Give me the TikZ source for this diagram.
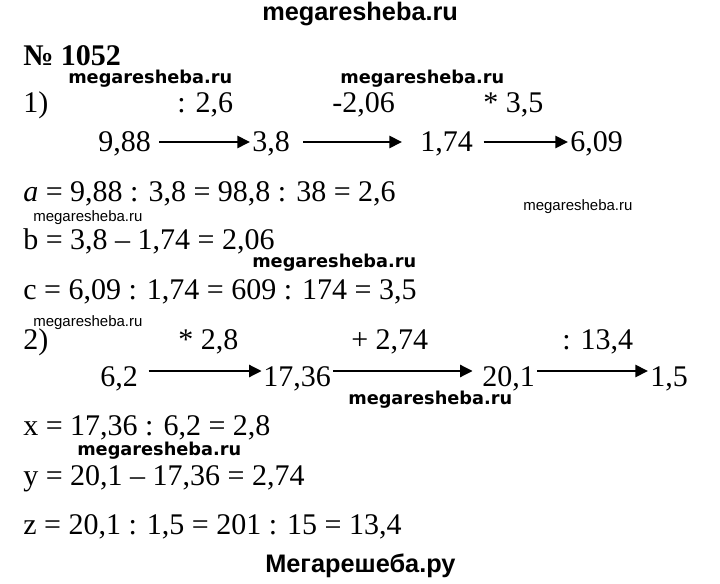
\documentclass[tikz,border=0pt]{standalone}
\usepackage{fontspec}
\setmainfont{Liberation Serif}
\newfontfamily\wmsans{Liberation Sans}
\newfontfamily\wmwide{DejaVu Sans}
\usetikzlibrary{arrows.meta}

\tikzset{
  txt/.style={anchor=base west, inner sep=0pt, font=\fontsize{22.5}{27}\selectfont},
  num/.style={txt, text height=15pt, text depth=0pt},
  numhi/.style={txt, text height=22.5pt, text depth=0pt},
  arr/.style={line width=2pt, -{Triangle[length=9.5pt, width=9pt]}},
  wmtop/.style={anchor=base west, inner sep=0pt, font=\wmsans\bfseries\fontsize{19}{22}\selectfont},
  wmbold/.style={anchor=base west, inner sep=0pt, font=\wmwide\bfseries\fontsize{13.3}{16}\selectfont},
  wmlight/.style={anchor=base west, inner sep=0pt, font=\wmsans\fontsize{11.25}{13}\selectfont}
}

\begin{document}
\begin{tikzpicture}[x=0.75pt, y=-0.75pt]
  \useasboundingbox (0,0) rectangle (720,584);
  % watermarks
  \node[wmtop] (wmtop) at (262,21) {megaresheba.ru};
  \node[wmbold] (wma) at (68,84) {megaresheba.ru};
  \node[wmbold] (wmb) at (340,84) {megaresheba.ru};
  \node[wmbold] (wmc) at (252,268) {megaresheba.ru};
  \node[wmbold] (wmd) at (348,404) {megaresheba.ru};
  \node[wmbold] (wme) at (77,455) {megaresheba.ru};
  \node[wmlight] (wmf) at (33,222) {megaresheba.ru};
  \node[wmlight] (wmg) at (523,211) {megaresheba.ru};
  \node[wmlight] (wmh) at (33,326) {megaresheba.ru};
  \node[wmtop] (wmbot) at (265,572) {Мегарешеба.ру};

  \node[txt, font=\bfseries\fontsize{22.5}{27}\selectfont] (title) at (23,66) {№ 1052};

  % part 1
  \node[txt] (p1) at (23,113) {1)};
  \node[txt] (op11) at (177,113) {: 2,6};
  \node[txt] (op12) at (332,113) {-2,06};
  \node[txt] (op13) at (483,113) {* 3,5};
  \node[num] (n11) at (98,152) {9,88};
  \node[num] (n12) at (252,152) {3,8};
  \node[num] (n13) at (420,152) {1,74};
  \node[num] (n14) at (570,152) {6,09};
  \draw[arr, shorten <=6pt, shorten >=1.5pt] (n11.east) -- (n12.west);
  \draw[arr, shorten <=10pt, shorten >=13.5pt] (n12.east) -- (n13.west);
  \draw[arr, shorten <=8pt, shorten >=1.5pt] (n13.east) -- (n14.west);
  \node[txt] (eqa) at (23,202) {\textit{a} = 9,88 : 3,8 = 98,8 : 38 = 2,6};
  \node[txt] (eqb) at (23,250) {b = 3,8 – 1,74 = 2,06};
  \node[txt] (eqc) at (23,300) {c = 6,09 : 1,74 = 609 : 174 = 3,5};

  % part 2
  \node[txt] (p2) at (23,349) {2)};
  \node[txt] (op21) at (178,349) {* 2,8};
  \node[txt] (op22) at (351,349) {+ 2,74};
  \node[txt] (op23) at (562,349) {: 13,4};
  \node[numhi] (n21) at (100,386) {6,2};
  \node[numhi] (n22) at (263,386) {17,36};
  \node[numhi] (n23) at (482,386) {20,1};
  \node[numhi] (n24) at (650,386) {1,5};
  \draw[arr, shorten <=8pt, shorten >=1pt] (n21.east) -- (n22.west);
  \draw[arr, shorten <=1.5pt, shorten >=7pt] (n22.east) -- (n23.west);
  \draw[arr, shorten <=1.5pt, shorten >=1.5pt] (n23.east) -- (n24.west);
  \node[txt] (eqx) at (23,435) {x = 17,36 : 6,2 = 2,8};
  \node[txt] (eqy) at (23,485) {y = 20,1 – 17,36 = 2,74};
  \node[txt] (eqz) at (23,534) {z = 20,1 : 1,5 = 201 : 15 = 13,4};
\end{tikzpicture}
\end{document}
